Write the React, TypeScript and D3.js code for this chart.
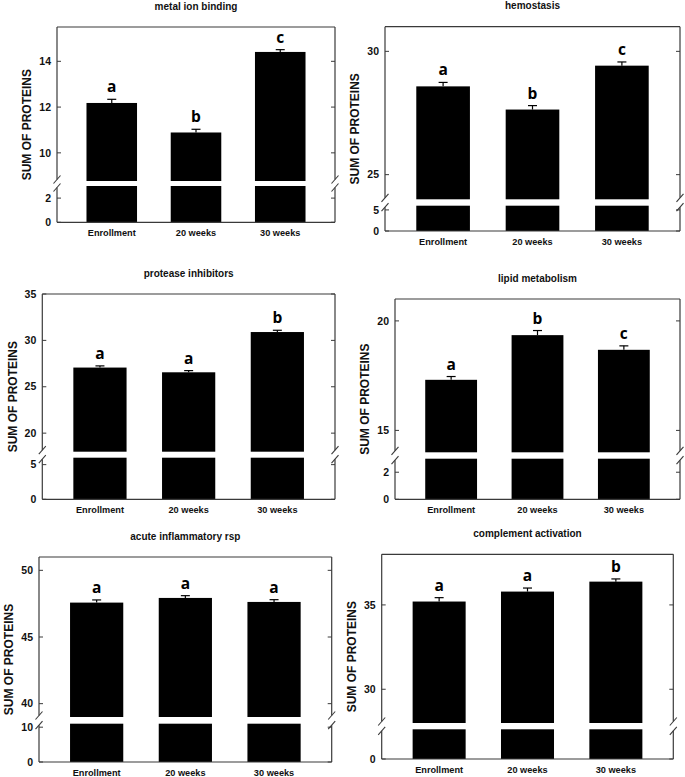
import React from "react";
import * as d3 from "d3";

// ---------- DATA ----------
const CATEGORIES = ["Enrollment", "20 weeks", "30 weeks"];
const TITLES = [
  "metal ion binding",
  "hemostasis",
  "protease inhibitors",
  "lipid metabolism",
  "acute inflammatory rsp",
  "complement activation",
];

const METAL_MEANS = [12.18, 10.89, 14.41];
const METAL_ERR = [0.16, 0.14, 0.1];
const METAL_LETTERS = ["a", "b", "c"];
const METAL_UPPER_DOMAIN = [8.77, 15.5];
const METAL_LOWER_DOMAIN = [0, 3];
const METAL_UPPER_TICKS = [10, 12, 14];
const METAL_LOWER_TICKS = [0, 2];

const HEMO_MEANS = [28.58, 27.64, 29.42];
const HEMO_ERR = [0.16, 0.16, 0.15];
const HEMO_LETTERS = ["a", "b", "c"];
const HEMO_UPPER_DOMAIN = [24, 31];
const HEMO_LOWER_DOMAIN = [0, 6];
const HEMO_UPPER_TICKS = [25, 30];
const HEMO_LOWER_TICKS = [0, 5];

const PROT_MEANS = [27.07, 26.56, 30.9];
const PROT_ERR = [0.18, 0.18, 0.19];
const PROT_LETTERS = ["a", "a", "b"];
const PROT_UPPER_DOMAIN = [18, 35];
const PROT_LOWER_DOMAIN = [0, 6];
const PROT_UPPER_TICKS = [20, 25, 30, 35];
const PROT_LOWER_TICKS = [0, 5];

const LIPID_MEANS = [17.31, 19.35, 18.68];
const LIPID_ERR = [0.15, 0.21, 0.18];
const LIPID_LETTERS = ["a", "b", "c"];
const LIPID_UPPER_DOMAIN = [14, 21];
const LIPID_LOWER_DOMAIN = [0, 3];
const LIPID_UPPER_TICKS = [15, 20];
const LIPID_LOWER_TICKS = [0, 2];

const ACUTE_MEANS = [47.58, 47.93, 47.63];
const ACUTE_ERR = [0.2, 0.17, 0.17];
const ACUTE_LETTERS = ["a", "a", "a"];
const ACUTE_UPPER_DOMAIN = [39, 51];
const ACUTE_LOWER_DOMAIN = [0, 11];
const ACUTE_UPPER_TICKS = [40, 45, 50];
const ACUTE_LOWER_TICKS = [0, 10];

const COMP_MEANS = [35.2, 35.79, 36.38];
const COMP_ERR = [0.23, 0.21, 0.16];
const COMP_LETTERS = ["a", "a", "b"];
const COMP_UPPER_DOMAIN = [28, 38];
const COMP_LOWER_DOMAIN = [0, 6];
const COMP_UPPER_TICKS = [30, 35];
const COMP_LOWER_TICKS = [0];

const Y_LABEL = "SUM OF PROTEINS";

// ---------- LAYOUT (pixel frames: left, right, top, bottom, breakTop, breakBottom) ----------
const LAYOUT = [
  { l: 57, r: 335, t: 27, b: 222.3, bt: 181, bb: 186 },
  { l: 385, r: 680, t: 26.7, b: 231, bt: 199.3, bb: 205.7 },
  { l: 42.3, r: 335, t: 294, b: 499.3, bt: 451.7, bb: 457.7 },
  { l: 395, r: 680, t: 299, b: 499.3, bt: 452.3, bb: 458.7 },
  { l: 39, r: 331.7, t: 557, b: 762, bt: 717, bb: 723.7 },
  { l: 381.7, r: 673.3, t: 554.3, b: 759, bt: 723, bb: 729.3 },
];

const PANELS = [
  { means: METAL_MEANS, err: METAL_ERR, letters: METAL_LETTERS, ud: METAL_UPPER_DOMAIN, ld: METAL_LOWER_DOMAIN, ut: METAL_UPPER_TICKS, lt: METAL_LOWER_TICKS },
  { means: HEMO_MEANS, err: HEMO_ERR, letters: HEMO_LETTERS, ud: HEMO_UPPER_DOMAIN, ld: HEMO_LOWER_DOMAIN, ut: HEMO_UPPER_TICKS, lt: HEMO_LOWER_TICKS },
  { means: PROT_MEANS, err: PROT_ERR, letters: PROT_LETTERS, ud: PROT_UPPER_DOMAIN, ld: PROT_LOWER_DOMAIN, ut: PROT_UPPER_TICKS, lt: PROT_LOWER_TICKS },
  { means: LIPID_MEANS, err: LIPID_ERR, letters: LIPID_LETTERS, ud: LIPID_UPPER_DOMAIN, ld: LIPID_LOWER_DOMAIN, ut: LIPID_UPPER_TICKS, lt: LIPID_LOWER_TICKS },
  { means: ACUTE_MEANS, err: ACUTE_ERR, letters: ACUTE_LETTERS, ud: ACUTE_UPPER_DOMAIN, ld: ACUTE_LOWER_DOMAIN, ut: ACUTE_UPPER_TICKS, lt: ACUTE_LOWER_TICKS },
  { means: COMP_MEANS, err: COMP_ERR, letters: COMP_LETTERS, ud: COMP_UPPER_DOMAIN, ld: COMP_LOWER_DOMAIN, ut: COMP_UPPER_TICKS, lt: COMP_LOWER_TICKS },
];

const FONT = "'Liberation Sans', Arial, sans-serif";
const LETTER_FONT = "'Open Sans', 'Noto Sans', sans-serif";
const AXIS_COLOR = "#3a3a3a";

function Panel({ idx }: { idx: number }) {
  const p = PANELS[idx];
  const f = LAYOUT[idx];
  const x = d3
    .scaleBand<string>()
    .domain(CATEGORIES)
    .range([f.l, f.r])
    .paddingInner(0.4)
    .paddingOuter(0.35);
  const yU = d3.scaleLinear().domain(p.ud).range([f.bt, f.t]);
  const yL = d3.scaleLinear().domain(p.ld).range([f.b, f.bb]);
  const tick = 4;
  const sl = (cx: number, cy: number, k: string) => (
    <line key={k} x1={cx - 3.5} y1={cy + 4} x2={cx + 3.5} y2={cy - 4} stroke={AXIS_COLOR} strokeWidth={1.1} />
  );
  return (
    <g>
      {/* title */}
      <text
        x={(f.l + f.r) / 2}
        y={f.t - 17.5}
        textAnchor="middle"
        fontFamily={FONT}
        fontWeight="bold"
        fontSize={10}
        fill="#111"
      >
        {TITLES[idx]}
      </text>
      {/* bars */}
      {CATEGORIES.map((c, i) => {
        const bx = x(c) as number;
        const bw = x.bandwidth();
        const cx = bx + bw / 2;
        const topY = yU(p.means[i]);
        const errY = yU(p.means[i] + p.err[i]);
        return (
          <g key={c}>
            <rect x={bx} y={topY} width={bw} height={f.bt - topY} fill="#000" />
            <rect x={bx} y={f.bb} width={bw} height={f.b - f.bb} fill="#000" />
            <line x1={cx} x2={cx} y1={topY} y2={errY} stroke="#000" strokeWidth={1.2} />
            <line x1={cx - 4.5} x2={cx + 4.5} y1={errY} y2={errY} stroke="#000" strokeWidth={1.2} />
            <text
              x={cx}
              y={errY - 7}
              textAnchor="middle"
              fontFamily={LETTER_FONT}
              fontWeight="bold"
              fontSize={15.5}
              fill="#000"
            >
              {p.letters[i]}
            </text>
            <text
              x={cx}
              y={f.b + 14}
              textAnchor="middle"
              fontFamily={FONT}
              fontWeight="bold"
              fontSize={9.2}
              fill="#111"
            >
              {c}
            </text>
          </g>
        );
      })}
      {/* frame */}
      <line x1={f.l} x2={f.r} y1={f.t} y2={f.t} stroke={AXIS_COLOR} strokeWidth={1.2} />
      <line x1={f.l} x2={f.r} y1={f.b} y2={f.b} stroke={AXIS_COLOR} strokeWidth={1.2} />
      <line x1={f.l} x2={f.l} y1={f.t} y2={f.bt - 1.5} stroke={AXIS_COLOR} strokeWidth={1.2} />
      <line x1={f.l} x2={f.l} y1={f.bb + 1.5} y2={f.b} stroke={AXIS_COLOR} strokeWidth={1.2} />
      <line x1={f.r} x2={f.r} y1={f.t} y2={f.bt - 1.5} stroke={AXIS_COLOR} strokeWidth={1.2} />
      <line x1={f.r} x2={f.r} y1={f.bb + 1.5} y2={f.b} stroke={AXIS_COLOR} strokeWidth={1.2} />
      {sl(f.l, f.bt - 1.5, "a")}
      {sl(f.l, f.bb + 1.5, "b")}
      {sl(f.r, f.bt - 1.5, "c")}
      {sl(f.r, f.bb + 1.5, "d")}
      {/* ticks */}
      {p.ut.map((t) => (
        <g key={"u" + t}>
          <line x1={f.l} x2={f.l + tick} y1={yU(t)} y2={yU(t)} stroke={AXIS_COLOR} strokeWidth={1} />
          <line x1={f.r} x2={f.r - tick} y1={yU(t)} y2={yU(t)} stroke={AXIS_COLOR} strokeWidth={1} />
          <text
            x={f.l - 6}
            y={yU(t)}
            dy="0.35em"
            textAnchor="end"
            fontFamily={FONT}
            fontWeight="bold"
            fontSize={10.5}
            fill="#111"
          >
            {t}
          </text>
        </g>
      ))}
      {p.lt.map((t) => (
        <g key={"l" + t}>
          <line x1={f.l} x2={f.l + tick} y1={yL(t)} y2={yL(t)} stroke={AXIS_COLOR} strokeWidth={1} />
          <line x1={f.r} x2={f.r - tick} y1={yL(t)} y2={yL(t)} stroke={AXIS_COLOR} strokeWidth={1} />
          <text
            x={f.l - 6}
            y={yL(t)}
            dy="0.35em"
            textAnchor="end"
            fontFamily={FONT}
            fontWeight="bold"
            fontSize={10.5}
            fill="#111"
          >
            {t}
          </text>
        </g>
      ))}
      {/* y label */}
      <text
        transform={`translate(${f.l - 30},${(f.t + f.b) / 2}) rotate(-90)`}
        textAnchor="middle"
        dy="0.35em"
        fontFamily={FONT}
        fontWeight="bold"
        fontSize={12}
        fill="#111"
      >
        {Y_LABEL}
      </text>
    </g>
  );
}

export default function App() {
  return (
    <div style={{ position: "absolute", left: 0, top: 0 }}>
      <svg width={685} height={777} style={{ display: "block", background: "#fff" }}>
        {PANELS.map((_, i) => (
          <Panel key={i} idx={i} />
        ))}
      </svg>
    </div>
  );
}
